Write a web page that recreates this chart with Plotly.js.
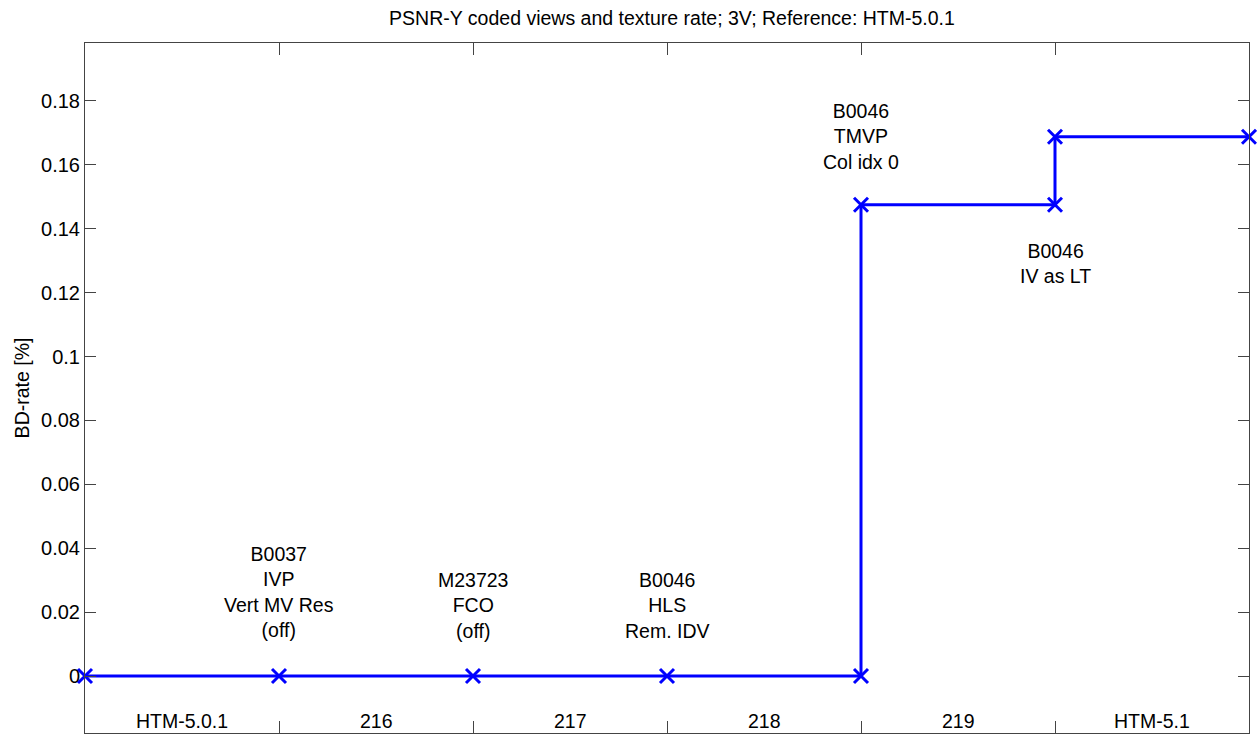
<!DOCTYPE html>
<html>
<head>
<meta charset="utf-8">
<script src="https://cdn.plot.ly/plotly-3.0.1.min.js"></script>
<style>html,body{margin:0;padding:0;background:#fff;}#chart{width:1257px;height:743px;}</style>
</head>
<body>
<div id="chart"></div>
<script>
// Step curve (x position, BD-rate %)
const stepX = [0, 1, 2, 3, 4, 4, 5, 5, 6];
const stepY = [0, 0, 0, 0, 0, 0.1475, 0.1475, 0.1688, 0.1688];

// Version labels between steps
const versionLabels = ['HTM-5.0.1', '216', '217', '218', '219', 'HTM-5.1'];
const versionX = [0.5, 1.5, 2.5, 3.5, 4.5, 5.5];
const versionY = -0.0142;

// Change annotations
const noteText = [
  'B0037<br>IVP<br>Vert MV Res<br>(off)',
  'M23723<br>FCO<br>(off)',
  'B0046<br>HLS<br>Rem. IDV',
  'B0046<br>TMVP<br>Col idx 0',
  'B0046<br>IV as LT'
];
const noteX = [1, 2, 3, 4, 5];
const noteY = [0.0262, 0.0222, 0.0222, 0.1690, 0.1292];

// Y ticks
const yTickVals = [0, 0.02, 0.04, 0.06, 0.08, 0.1, 0.12, 0.14, 0.16, 0.18];
const yTickText = ['0', '0.02', '0.04', '0.06', '0.08', '0.1', '0.12', '0.14', '0.16', '0.18'];

const FONT = 'Liberation Sans, Arial, Helvetica, sans-serif';
const TXT = 19.5;
const annotations = [];
versionLabels.forEach((t, i) => annotations.push({
  x: versionX[i], y: versionY, xref: 'x', yref: 'y', text: t, showarrow: false,
  font: {family: FONT, size: TXT, color: '#000'}, xanchor: 'center', yanchor: 'middle'
}));
noteText.forEach((t, i) => annotations.push({
  x: noteX[i], y: noteY[i], xref: 'x', yref: 'y', text: t, showarrow: false,
  font: {family: FONT, size: TXT, color: '#000'}, xanchor: 'center', yanchor: 'middle', align: 'center'
}));

const trace = {
  x: stepX, y: stepY, type: 'scatter', mode: 'lines+markers',
  line: {color: '#0000ff', width: 3},
  marker: {symbol: 'x-thin', size: 14, color: '#0000ff', line: {color: '#0000ff', width: 3}},
  cliponaxis: false, hoverinfo: 'skip'
};

const layout = {
  width: 1257, height: 743,
  margin: {l: 85, r: 8, t: 43, b: 10},
  paper_bgcolor: '#fff', plot_bgcolor: '#fff',
  showlegend: false,
  font: {family: FONT, size: TXT, color: '#000'},
  title: {text: 'PSNR-Y coded views and texture rate; 3V; Reference: HTM-5.0.1',
          font: {family: FONT, size: 19.5, color: '#000'}, x: 0.5346, xanchor: 'center', y: 0.976, yanchor: 'middle'},
  xaxis: {
    range: [0, 6], tickvals: [1, 2, 3, 4, 5], showticklabels: false,
    ticks: 'inside', ticklen: 12, tickwidth: 1, tickcolor: '#444',
    showline: true, linecolor: '#444', linewidth: 1, mirror: 'ticks',
    showgrid: false, zeroline: false, fixedrange: true
  },
  yaxis: {
    range: [-0.01784, 0.19815], tickvals: yTickVals, ticktext: yTickText,
    ticks: 'inside', ticklen: 11, tickwidth: 1, tickcolor: '#444',
    showline: true, linecolor: '#444', linewidth: 1, mirror: 'ticks',
    showgrid: false, zeroline: false, fixedrange: true,
    tickfont: {family: FONT, size: 20, color: '#000'},
    title: {text: 'BD-rate [%]', font: {family: FONT, size: 19.5, color: '#000'}, standoff: 6}
  },
  annotations: annotations
};

Plotly.newPlot('chart', [trace], layout, {displayModeBar: false, staticPlot: true});
</script>
</body>
</html>
